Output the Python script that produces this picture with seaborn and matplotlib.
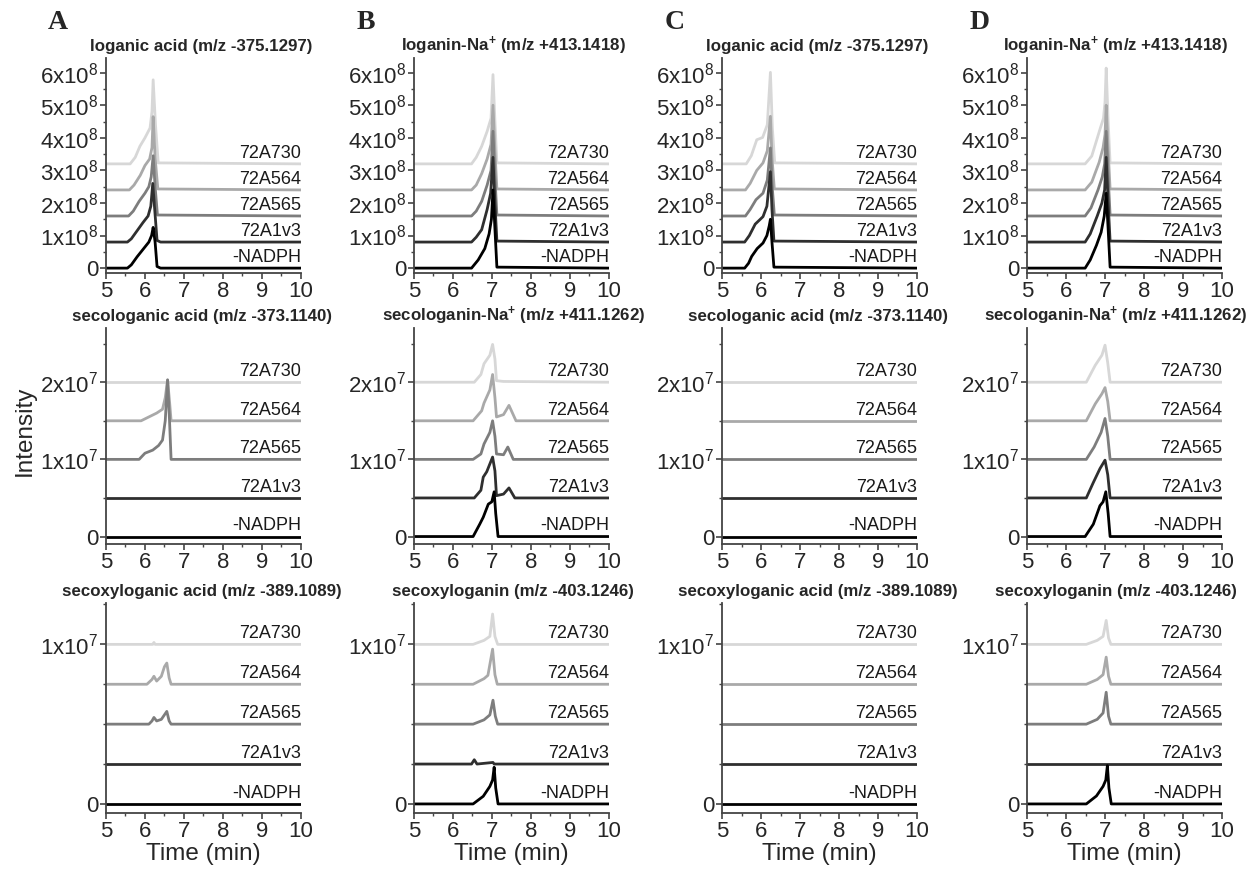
import numpy as np
import pandas as pd
import seaborn as sns
import matplotlib
matplotlib.use("Agg")
from matplotlib import pyplot as plt
from matplotlib import ticker
import matplotlib.transforms as mtrans

sns.set_style("ticks")
plt.rcParams["font.family"] = ["Liberation Sans", "DejaVu Sans"]
plt.rcParams["mathtext.fontset"] = "custom"
plt.rcParams["mathtext.rm"] = "Liberation Sans"
plt.rcParams["mathtext.it"] = "Liberation Sans:italic"
plt.rcParams["mathtext.bf"] = "Liberation Sans:bold"

# samples, bottom to top, and their grey levels
SAMPLES = ["-NADPH", "72A1v3", "72A565", "72A564", "72A730"]
GREYS = ["#000000", "#2f2f2f", "#7d7d7d", "#a9a9a9", "#d7d7d7"]
DRAW_ORDER = ["72A730", "72A564", "72A565", "72A1v3", "-NADPH"]

PANEL_LETTERS = ["A", "B", "C", "D"]
TITLES_TOP = ["loganic acid (m/z -375.1297)", r"loganin-Na$^\mathbf{+}$ (m/z +413.1418)",
              "loganic acid (m/z -375.1297)", r"loganin-Na$^\mathbf{+}$ (m/z +413.1418)"]
TITLES_MID = ["secologanic acid (m/z -373.1140)", r"secologanin-Na$^\mathbf{+}$ (m/z +411.1262)",
              "secologanic acid (m/z -373.1140)", r"secologanin-Na$^\mathbf{+}$ (m/z +411.1262)"]
TITLES_BOT = ["secoxyloganic acid (m/z -389.1089)", "secoxyloganin (m/z -403.1246)",
              "secoxyloganic acid (m/z -389.1089)", "secoxyloganin (m/z -403.1246)"]

# trace offsets (same order as SAMPLES)
BASE_TOP = [0, 0.8, 1.6, 2.4, 3.2]      # x1e8
BASE_MID = [0, 0.5, 1.0, 1.5, 2.0]      # x1e7
BASE_BOT = [0, 0.25, 0.5, 0.75, 1.0]    # x1e7

FLAT = [(5, 0), (10, 0)]

# (time, height above own baseline)
A_TOP = {
    "-NADPH": [(5, 0), (5.55, 0), (5.65, 0.1), (5.8, 0.35), (5.9, 0.5), (6.0, 0.65), (6.1, 0.8),
               (6.17, 1.0), (6.21, 1.25), (6.26, 0.8), (6.31, 0.05), (6.4, 0), (10, 0)],
    "72A1v3": [(5, 0), (5.55, 0), (5.65, 0.1), (5.8, 0.35), (5.95, 0.6), (6.08, 0.8), (6.15, 1.1),
               (6.2, 1.8), (6.25, 1.0), (6.31, 0.05), (6.4, 0), (10, 0)],
    "72A565": [(5, 0), (5.58, 0), (5.7, 0.15), (5.85, 0.45), (6.0, 0.7), (6.1, 0.9), (6.16, 1.2),
               (6.21, 1.85), (6.26, 0.9), (6.32, 0.03), (10, 0)],
    "72A564": [(5, 0), (5.6, 0), (5.72, 0.15), (5.88, 0.45), (6.0, 0.75), (6.12, 0.95), (6.18, 1.3),
               (6.21, 2.25), (6.26, 1.0), (6.33, 0.03), (10, 0)],
    "72A730": [(5, 0), (5.62, 0), (5.75, 0.2), (5.87, 0.54), (6.0, 0.8), (6.13, 1.1), (6.18, 1.6),
               (6.21, 2.58), (6.27, 1.2), (6.34, 0.03), (10, 0)],
}
B_TOP = {
    "-NADPH": [(5, 0), (6.48, 0), (6.65, 0.25), (6.82, 0.6), (6.93, 1.05), (6.99, 1.5),
               (7.03, 2.4), (7.08, 1.2), (7.13, 0.03), (10, 0)],
    "72A1v3": [(5, 0), (6.48, 0), (6.6, 0.15), (6.74, 0.38), (6.88, 1.0), (6.97, 1.5),
               (7.03, 2.6), (7.08, 1.2), (7.13, 0.03), (10, 0)],
    "72A565": [(5, 0), (6.48, 0), (6.6, 0.15), (6.74, 0.45), (6.88, 0.95), (6.98, 1.4),
               (7.03, 2.6), (7.08, 1.2), (7.13, 0.03), (10, 0)],
    "72A564": [(5, 0), (6.48, 0), (6.6, 0.15), (6.74, 0.5), (6.88, 0.95), (6.98, 1.4),
               (7.03, 2.6), (7.08, 1.2), (7.13, 0.03), (10, 0)],
    "72A730": [(5, 0), (6.48, 0), (6.6, 0.2), (6.74, 0.54), (6.88, 1.0), (6.98, 1.4),
               (7.03, 2.74), (7.08, 1.3), (7.13, 0.03), (10, 0)],
}
C_TOP = {
    "-NADPH": [(5, 0), (5.58, 0), (5.68, 0.15), (5.76, 0.36), (5.9, 0.6), (6.05, 0.77), (6.15, 1.0),
               (6.21, 1.3), (6.24, 1.5), (6.28, 0.8), (6.33, 0.03), (10, 0)],
    "72A1v3": [(5, 0), (5.58, 0), (5.7, 0.2), (5.85, 0.55), (6.05, 0.78), (6.15, 1.1),
               (6.24, 2.16), (6.28, 1.0), (6.33, 0.03), (10, 0)],
    "72A565": [(5, 0), (5.6, 0), (5.72, 0.2), (5.87, 0.5), (6.05, 0.7), (6.16, 1.1),
               (6.24, 2.09), (6.28, 1.0), (6.34, 0.03), (10, 0)],
    "72A564": [(5, 0), (5.6, 0), (5.72, 0.2), (5.89, 0.6), (6.05, 0.83), (6.16, 1.2),
               (6.24, 2.26), (6.28, 1.0), (6.34, 0.03), (10, 0)],
    "72A730": [(5, 0), (5.62, 0), (5.75, 0.25), (5.89, 0.74), (6.04, 0.81), (6.16, 1.2),
               (6.24, 2.81), (6.29, 1.1), (6.35, 0.03), (10, 0)],
}
D_TOP = {
    "-NADPH": [(5, 0), (6.49, 0), (6.62, 0.25), (6.78, 0.7), (6.9, 1.1), (6.98, 1.6),
               (7.03, 2.3), (7.08, 1.2), (7.13, 0.03), (10, 0)],
    "72A1v3": [(5, 0), (6.49, 0), (6.62, 0.25), (6.8, 0.8), (6.92, 1.2), (6.99, 1.6),
               (7.03, 2.6), (7.08, 1.2), (7.13, 0.03), (10, 0)],
    "72A565": [(5, 0), (6.49, 0), (6.64, 0.25), (6.82, 0.8), (6.93, 1.2), (6.99, 1.6),
               (7.03, 2.6), (7.08, 1.2), (7.13, 0.03), (10, 0)],
    "72A564": [(5, 0), (6.49, 0), (6.66, 0.24), (6.85, 0.85), (6.95, 1.3), (7.0, 1.7),
               (7.03, 2.6), (7.08, 1.2), (7.13, 0.03), (10, 0)],
    "72A730": [(5, 0), (6.49, 0), (6.66, 0.24), (6.87, 1.06), (6.96, 1.4), (7.0, 1.9),
               (7.03, 2.94), (7.08, 1.3), (7.13, 0.03), (10, 0)],
}

A_MID = {
    "-NADPH": FLAT, "72A1v3": FLAT, "72A730": FLAT,
    "72A565": [(5, 0), (5.85, 0), (6.0, 0.08), (6.2, 0.12), (6.35, 0.18), (6.45, 0.25),
               (6.52, 0.5), (6.58, 1.03), (6.63, 0.5), (6.67, 0), (10, 0)],
    "72A564": [(5, 0), (5.9, 0), (6.1, 0.05), (6.3, 0.1), (6.45, 0.15), (6.52, 0.3),
               (6.58, 0.53), (6.63, 0.25), (6.67, 0), (10, 0)],
}
B_MID = {
    "-NADPH": [(5, 0), (6.52, 0), (6.69, 0.16), (6.78, 0.25), (6.91, 0.42), (7.0, 0.45),
               (7.06, 0.58), (7.1, 0.3), (7.16, 0), (10, 0)],
    "72A1v3": [(5, 0), (6.55, 0), (6.72, 0.1), (6.78, 0.27), (6.87, 0.34), (7.02, 0.53),
               (7.08, 0.35), (7.12, 0.03), (7.3, 0.05), (7.44, 0.13), (7.59, 0), (10, 0)],
    "72A565": [(5, 0), (6.52, 0), (6.72, 0.07), (6.8, 0.2), (6.95, 0.35), (7.02, 0.5),
               (7.08, 0.3), (7.12, 0.07), (7.3, 0.06), (7.41, 0.16), (7.55, 0), (10, 0)],
    "72A564": [(5, 0), (6.52, 0), (6.74, 0.13), (6.8, 0.23), (6.95, 0.4), (7.02, 0.6),
               (7.08, 0.3), (7.12, 0.05), (7.3, 0.08), (7.44, 0.2), (7.62, 0), (10, 0)],
    "72A730": [(5, 0), (6.55, 0), (6.72, 0.1), (6.8, 0.24), (6.95, 0.35), (7.02, 0.49),
               (7.08, 0.3), (7.12, 0.02), (7.3, 0.01), (10, 0)],
}
C_MID = {s: FLAT for s in SAMPLES}
D_MID = {
    "-NADPH": [(5, 0), (6.49, 0), (6.7, 0.16), (6.87, 0.4), (6.95, 0.45), (7.02, 0.58),
               (7.08, 0.3), (7.13, 0), (10, 0)],
    "72A1v3": [(5, 0), (6.52, 0), (6.7, 0.2), (6.87, 0.38), (7.0, 0.49), (7.07, 0.3),
               (7.13, 0), (10, 0)],
    "72A565": [(5, 0), (6.52, 0), (6.72, 0.16), (6.9, 0.35), (7.0, 0.53), (7.07, 0.3),
               (7.13, 0), (10, 0)],
    "72A564": [(5, 0), (6.52, 0), (6.75, 0.22), (6.92, 0.35), (7.0, 0.43), (7.07, 0.25),
               (7.13, 0), (10, 0)],
    "72A730": [(5, 0), (6.52, 0), (6.75, 0.22), (6.92, 0.35), (7.0, 0.48), (7.07, 0.25),
               (7.13, 0), (10, 0)],
}

A_BOT = {
    "-NADPH": FLAT, "72A1v3": FLAT,
    "72A565": [(5, 0), (6.1, 0), (6.18, 0.02), (6.23, 0.042), (6.3, 0.02), (6.42, 0.03),
               (6.56, 0.08), (6.62, 0.02), (6.67, 0), (10, 0)],
    "72A564": [(5, 0), (6.05, 0), (6.18, 0.03), (6.23, 0.05), (6.3, 0.02), (6.42, 0.05),
               (6.5, 0.11), (6.56, 0.133), (6.62, 0.04), (6.67, 0), (10, 0)],
    "72A730": [(5, 0), (6.2, 0), (6.23, 0.012), (6.26, 0), (10, 0)],
}
B_BOT = {
    "-NADPH": [(5, 0), (6.52, 0), (6.78, 0.048), (6.95, 0.11), (7.02, 0.15), (7.06, 0.23),
               (7.1, 0.1), (7.16, 0), (10, 0)],
    "72A1v3": [(5, 0), (6.48, 0), (6.55, 0.027), (6.62, 0), (7.03, 0.01), (7.06, 0), (10, 0)],
    "72A565": [(5, 0), (6.52, 0), (6.8, 0.027), (6.95, 0.058), (7.03, 0.15), (7.09, 0.05),
               (7.15, 0), (10, 0)],
    "72A564": [(5, 0), (6.52, 0), (6.8, 0.035), (6.9, 0.056), (7.02, 0.22), (7.08, 0.06),
               (7.14, 0), (10, 0)],
    "72A730": [(5, 0), (6.52, 0), (6.8, 0.025), (6.95, 0.05), (7.02, 0.19), (7.08, 0.05),
               (7.15, 0), (10, 0)],
}
C_BOT = {s: FLAT for s in SAMPLES}
D_BOT = {
    "-NADPH": [(5, 0), (6.52, 0), (6.78, 0.05), (6.95, 0.11), (7.02, 0.15), (7.06, 0.24),
               (7.1, 0.1), (7.16, 0), (10, 0)],
    "72A1v3": FLAT,
    "72A565": [(5, 0), (6.52, 0), (6.8, 0.03), (6.95, 0.07), (7.03, 0.2), (7.09, 0.05),
               (7.15, 0), (10, 0)],
    "72A564": [(5, 0), (6.52, 0), (6.8, 0.03), (6.95, 0.06), (7.03, 0.17), (7.09, 0.05),
               (7.15, 0), (10, 0)],
    "72A730": [(5, 0), (6.52, 0), (6.8, 0.025), (6.95, 0.05), (7.03, 0.15), (7.09, 0.04),
               (7.15, 0), (10, 0)],
}

ROWS = [
    ([A_TOP, B_TOP, C_TOP, D_TOP], TITLES_TOP, BASE_TOP, 1e8, (-0.15e8, 6.45e8), 1e8, 0.5e8, 0.688, 0.2457),
    ([A_MID, B_MID, C_MID, D_MID], TITLES_MID, BASE_MID, 1e7, (-0.1e7, 2.7e7), 1e7, 0.5e7, 0.378, 0.2469),
    ([A_BOT, B_BOT, C_BOT, D_BOT], TITLES_BOT, BASE_BOT, 1e7, (-0.056e7, 1.26e7), 1e7, 0.25e7, 0.071, 0.240),
]
LEFTS = [0.0845, 0.330, 0.5758, 0.819]
TITLE_X = [0.49, 0.51, 0.49, 0.455]
WIDTH = 0.1555

pal = dict(zip(SAMPLES, GREYS))


def sci_fmt(v, pos):
    if abs(v) < 1:
        return "0"
    e = int(np.floor(np.log10(abs(v)) + 1e-9))
    return r"%dx10$^{%d}$" % (round(v / 10 ** e), e)


fig = plt.figure(figsize=(12.54, 8.75), dpi=100)

for r, (traces, titles, bases, scale, ylim, major, minor, bottom, height) in enumerate(ROWS):
    for c in range(4):
        ax = fig.add_axes([LEFTS[c], bottom, WIDTH, height])
        rows = []
        for s, b in zip(SAMPLES, bases):
            for t, h in traces[c][s]:
                rows.append((s, t, (b + h) * scale))
        df = pd.DataFrame(rows, columns=["sample", "time", "intensity"])
        sns.lineplot(data=df, x="time", y="intensity", hue="sample", hue_order=DRAW_ORDER,
                     palette=pal, estimator=None, sort=False, lw=2.0, legend=False, ax=ax)

        trans = mtrans.blended_transform_factory(ax.transAxes, ax.transData)
        for s, b in zip(SAMPLES, bases):
            ax.annotate(s, (1.0, b * scale), xycoords=trans, xytext=(0, 1.5),
                        textcoords="offset points", ha="right", va="bottom",
                        fontsize=13, color="#1a1a1a")

        ax.set_xlim(5, 10)
        ax.set_ylim(*ylim)
        ax.xaxis.set_major_locator(ticker.MultipleLocator(1))
        ax.xaxis.set_minor_locator(ticker.MultipleLocator(0.5))
        ax.yaxis.set_major_locator(ticker.MultipleLocator(major))
        ax.yaxis.set_minor_locator(ticker.MultipleLocator(minor))
        ax.yaxis.set_major_formatter(ticker.FuncFormatter(sci_fmt))
        ax.tick_params(which="major", direction="out", length=4, width=1.2, pad=1.5,
                       labelsize=16, color="#444444")
        ax.tick_params(which="minor", direction="out", length=2.5, width=1, color="#444444")
        sns.despine(ax=ax)
        for sp in ["left", "bottom"]:
            ax.spines[sp].set_linewidth(1.3)
            ax.spines[sp].set_color("#444444")
        ax.set_title(titles[c], fontsize=12.2, fontweight="bold", pad=5, x=TITLE_X[c])
        ax.set_ylabel("")
        if r == 2:
            ax.set_xlabel("Time (min)", fontsize=17.5, labelpad=1)
        else:
            ax.set_xlabel("")
        if r == 0:
            fig.text(LEFTS[c] - 0.038, 0.974, PANEL_LETTERS[c], fontsize=20, fontweight="bold",
                     family="Liberation Serif", ha="center", va="center")

fig.text(0.02, 0.508, "Intensity", rotation=90, fontsize=17.5, ha="center", va="center")

fig.savefig("out.png", dpi=100)
